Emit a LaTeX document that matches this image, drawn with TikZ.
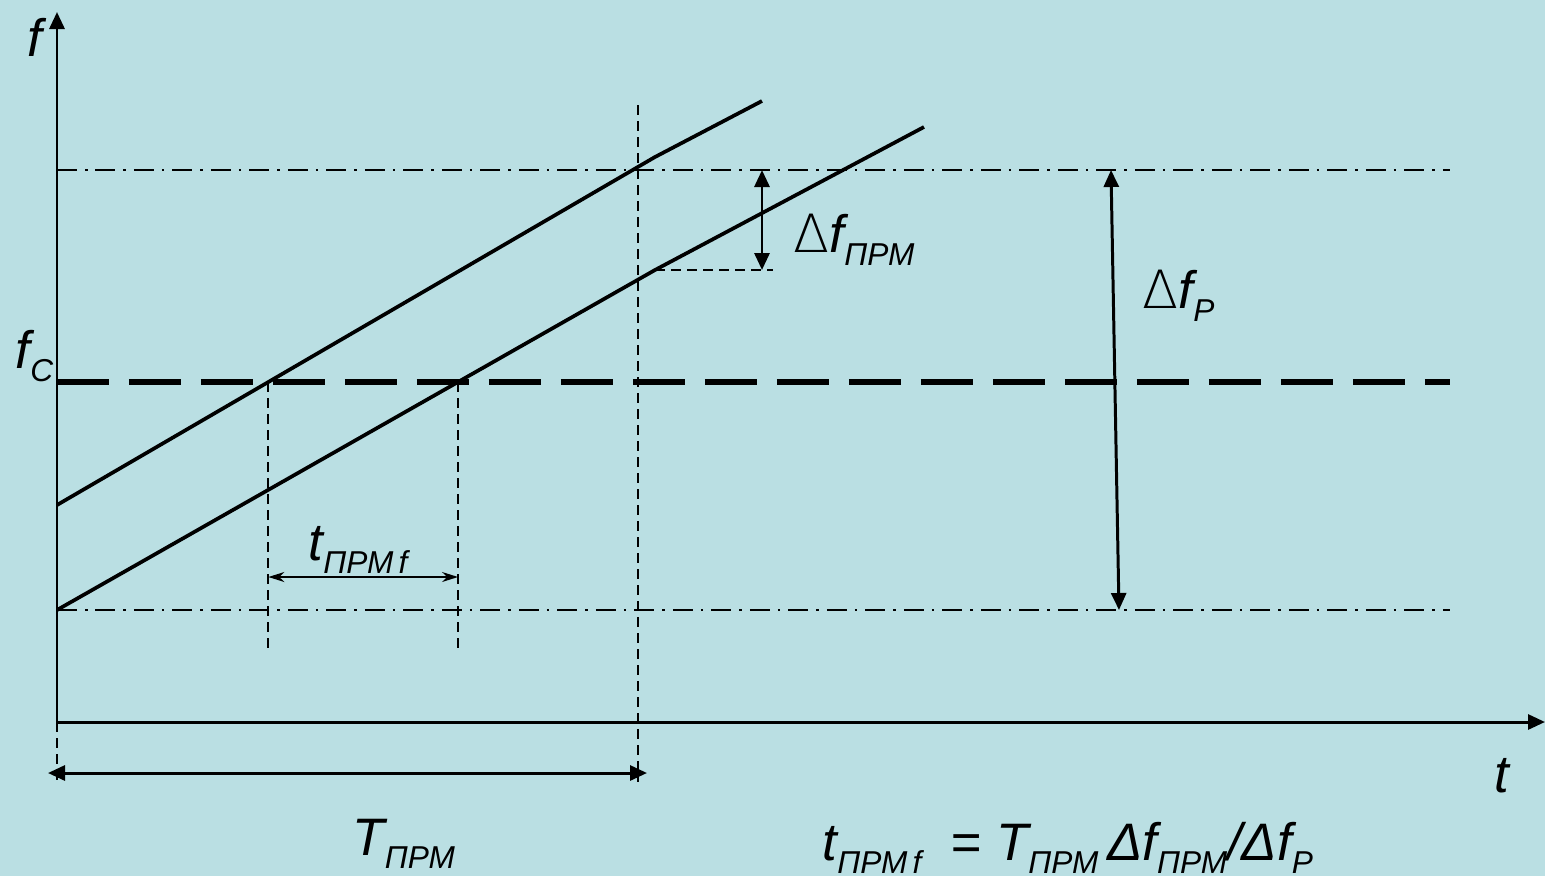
\documentclass[tikz,border=0pt]{standalone}
\usepackage{fontspec}
\setmainfont{Liberation Sans}
\usepackage{tikz}
\usetikzlibrary{arrows.meta, positioning, calc}
\definecolor{bgblue}{RGB}{186,223,227}
\newcommand{\lowsub}[1]{\raisebox{-0.25em}{\fontsize{9}{11}\selectfont #1}}

\begin{document}
\begin{tikzpicture}[
    x=0.1mm, y=-0.1mm,
    axis/.style={line width=0.85pt, -{Triangle[length=1.7mm, width=1.5mm]}},
    ramp/.style={line width=1.05pt},
    bandline/.style={line width=0.7pt, dash pattern=on 2mm off 0.8mm on 0.25mm off 0.8mm},
    carrier/.style={line width=1.8pt, dash pattern=on 5.2mm off 2mm},
    guide/.style={line width=0.55pt, dash pattern=on 1mm off 0.6mm},
    dimarrow/.style={line width=0.85pt, {Triangle[length=1.7mm, width=1.5mm]}-{Triangle[length=1.7mm, width=1.5mm]}},
    smalldim/.style={line width=0.5pt, {Stealth[length=1.6mm, width=1mm]}-{Stealth[length=1.6mm, width=1mm]}},
    lbl/.style={font=\fontsize{15}{18}\selectfont\itshape, inner sep=0pt, anchor=base west},
]
\fill[bgblue] (0,0) rectangle (1545,876);
\useasboundingbox (0,0) rectangle (1545,876);

% Axes
\coordinate (O) at (57,722);
\coordinate (ytop) at (57,12);
\coordinate (xend) at (1545,722);
\draw[axis] (O) -- (ytop);
\draw[axis] (O) -- (xend);
\node[lbl] (flab) at (27,56) {f};
\node[lbl] (tlab) at (1494,792) {t};

% Band edges and carrier
\coordinate (hiL) at (57,170);
\coordinate (hiR) at (1450,170);
\coordinate (loL) at (57,610);
\coordinate (loR) at (1450,610);
\coordinate (fcL) at (57,382);
\coordinate (fcR) at (1450,382);
\draw[bandline] (hiL) -- (hiR);
\draw[bandline] (loL) -- (loR);
\draw[carrier] (fcL) -- (fcR);
\node[lbl] (fclab) at (15,368) {f\lowsub{C}};

% Receiver sweep
\coordinate (u0) at (57,505);
\coordinate (u1) at (655,157);
\coordinate (u2) at (762,101);
\coordinate (l1) at (655,270);
\coordinate (l2) at (924,127);
\draw[ramp] (u0) -- (u1) -- (u2);
\draw[ramp] (loL) -- (l1) -- (l2);

% Crossings with the carrier
\coordinate (c1) at (intersection of u0--u1 and fcL--fcR);
\coordinate (c2) at (intersection of loL--l1 and fcL--fcR);
\draw[guide] (c1) -- (c1 |- 0,652);
\draw[guide] (c2) -- (c2 |- 0,652);
\draw[smalldim] (c1 |- 0,577) -- (c2 |- 0,577);
\node[lbl] (tprmf) at (308,560) {t\lowsub{ПРМ\,f}};

% Sweep period
\coordinate (Ttop) at (638,105);
\coordinate (Tbot) at (638,782);
\draw[guide] (Ttop) -- (Tbot);
\draw[guide] (O) -- ++(0,63);
\draw[dimarrow] (48,773) coordinate (Tl) -- (647,773) coordinate (Tr);
\node[lbl] (Tprm) at (352,855) {T\lowsub{ПРМ}};

% Receiver band
\coordinate (dA) at (762,170);
\coordinate (dB) at (762,270);
\draw[guide] (l1) -- (773,270);
\draw[dimarrow] (dA) -- (dB);
\node[lbl] (dfprm) at (793,252) {{\upshape\fontspec{DejaVu Sans ExtraLight}Δ}f\lowsub{ПРМ}};

% Sweep range
\coordinate (pA) at (1111,170);
\coordinate (pB) at (1119,610);
\draw[dimarrow] (pA) -- (pB);
\node[lbl] (dfp) at (1142,308) {{\upshape\fontspec{DejaVu Sans ExtraLight}Δ}f\lowsub{P}};

% Formula
\node[lbl] (formula) at (822,860) {t\lowsub{ПРМ\,f} \ = T\lowsub{ПРМ}\,Δf\lowsub{ПРМ}/Δf\lowsub{P}};

\end{tikzpicture}
\end{document}
